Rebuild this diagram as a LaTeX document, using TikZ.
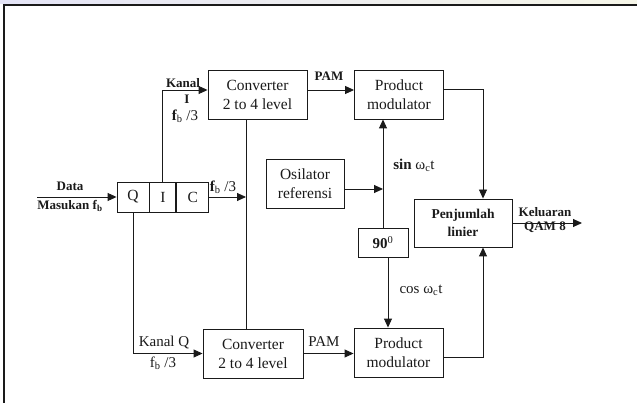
\documentclass[tikz,border=0pt]{standalone}
\usepackage{fontspec}
\setmainfont{Liberation Serif}
\usetikzlibrary{arrows.meta,positioning}
\definecolor{garis}{HTML}{1A1A1A}
\definecolor{hdrL}{HTML}{E4E4F6}
\definecolor{hdrR}{HTML}{F6F6E8}

\begin{document}
\begin{tikzpicture}[x=1pt,y=-1pt,
  box/.style={draw=garis,line width=0.9pt,align=center,inner sep=0pt,
    font=\fontsize{15.5}{19}\selectfont},
  lbl/.style={inner sep=0pt,font=\fontsize{13}{14}\selectfont\bfseries},
  lbln/.style={inner sep=0pt,font=\fontsize{15}{16}\selectfont},
  every path/.style={line width=0.9pt,garis},
  arr/.style={-{Triangle[length=9pt,width=8pt]}}]
\useasboundingbox (0,0) rectangle (637,403);
% header strip and frame
\fill[left color=hdrL,right color=hdrR] (0,0) rectangle (637,4);
\draw[line width=2pt] (4,403) -- (4,5) -- (637,5);
% blocks
\node[box,minimum width=99pt,minimum height=49pt] (convI) at (257.5,94.5) {Converter\\2 to 4 level};
\node[box,minimum width=89pt,minimum height=49pt] (pmI) at (399,94.5) {Product\\modulator};
\node[box,minimum width=78pt,minimum height=49pt] (osc) at (305,183.5) {Osilator\\referensi};
\node[box,minimum width=50pt,minimum height=29pt,font=\fontsize{15}{16}\selectfont] (ninety) at (383,242.5) {\textbf{90}\textsuperscript{0}};
\node[box,minimum width=98pt,minimum height=48pt,font=\fontsize{13.5}{18}\selectfont\bfseries] (sum) at (463,223) {Penjumlah\\linier};
\node[box,minimum width=100pt,minimum height=49pt] (convQ) at (253,353.5) {Converter\\2 to 4 level};
\node[box,minimum width=89pt,minimum height=49pt] (pmQ) at (398.5,352.5) {Product\\modulator};
% serial to parallel
\node[box,minimum width=32pt,minimum height=30pt] (q) at (133,197) {Q};
\node[box,minimum width=26pt,minimum height=30pt,right=0pt of q] (i) {I};
\node[box,minimum width=32pt,minimum height=30pt,right=0pt of i] (c) {C};
% connectors
\coordinate (din) at (37,197);
\coordinate (vline) at (246,197);
\coordinate (tap) at (483,223);
\coordinate (dout) at (582,223);
\draw[arr] (din) -- (q.west);
\draw[arr] (i.north) |- ([yshift=4.5pt]convI.west);
\draw (vline |- convI.south) -- (vline |- convQ.north);
\draw[arr] (c.east) -- (vline);
\draw[arr] (q.south) |- (convQ.west);
\draw[arr] ([yshift=4.5pt]convI.east) -- ([yshift=4.5pt]pmI.west);
\draw[arr] (convQ.east) -- (convQ.east -| pmQ.west);
\draw[arr] ([yshift=-5.5pt]osc.east) -- ([yshift=-5.5pt]osc.east -| ninety.north);
\draw[arr] (ninety.north) -- (ninety.north |- pmI.south);
\draw[arr] ([xshift=5pt]ninety.south) -- ([xshift=5pt]ninety.south |- pmQ.north);
\draw[arr] ([yshift=5pt]pmI.east) -| (tap |- sum.north);
\draw[arr] ([yshift=-4.5pt]pmQ.east) -| (tap |- sum.south);
\draw[arr] (sum.east) -- (dout);
% labels
\node[lbl] (data) at (70,186) {Data};
\node[lbl] (masukan) at (70,206) {Masukan f\textsubscript{b}};
\node[lbl] (kanalI) at (183,83) {Kanal};
\node[lbl] (lblI) at (187,99) {I};
\node[lbln] (fbI) at (185,116) {\textbf{f}\textsubscript{b} /3};
\node[lbl] (pamI) at (329,76) {PAM};
\node[lbln] (fbC) at (223,187) {\textbf{f}\textsubscript{b} /3};
\node[lbln] (sin) at (414,165) {\textbf{sin} ω\textsubscript{c}t};
\node[lbln] (cos) at (421,290) {cos ω\textsubscript{c}t};
\node[lbl] (kel) at (545,212) {Keluaran};
\node[lbl] (qam) at (545,227) {QAM 8};
\node[lbln] (kanalQ) at (164,343) {Kanal Q};
\node[lbln] (fbQ) at (163,363) {f\textsubscript{b} /3};
\node[lbln] (pamQ) at (324,342) {PAM};
\end{tikzpicture}
\end{document}
